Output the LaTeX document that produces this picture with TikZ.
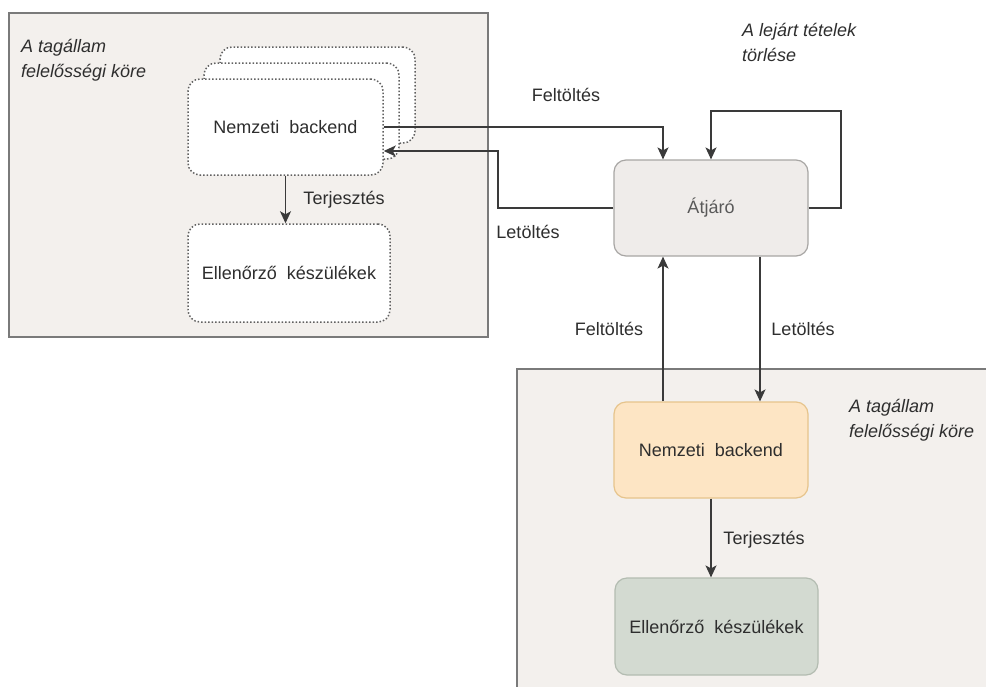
\documentclass[tikz,border=0pt]{standalone}
\usepackage{fontspec}
\setmainfont{Liberation Sans}
\usetikzlibrary{arrows.meta,calc}
\definecolor{panelfill}{HTML}{F3F0ED}
\definecolor{panelline}{HTML}{7A7A7A}
\definecolor{gwfill}{HTML}{EFECEA}
\definecolor{gwline}{HTML}{A8A6A4}
\definecolor{orfill}{HTML}{FDE5C4}
\definecolor{orline}{HTML}{E6C48C}
\definecolor{grfill}{HTML}{D3DAD1}
\definecolor{grline}{HTML}{B3BCB1}
\definecolor{txt}{HTML}{2E2E2E}
\definecolor{lnc}{HTML}{3A3A3A}
\begin{document}
\begin{tikzpicture}[x=1pt,y=-1pt,
  every node/.style={font=\fontsize{18}{25}\selectfont, text=txt},
  panel/.style={draw=panelline, fill=panelfill, line width=1.2pt},
  dotbox/.style={draw=black!62, fill=white, dotted, line width=1.5pt, rounded corners=12pt, minimum width=195pt, minimum height=96pt, inner sep=0pt},
  gwbox/.style={draw=gwline, fill=gwfill, line width=1.2pt, rounded corners=12pt, minimum width=194pt, minimum height=96pt, inner sep=0pt},
  orbox/.style={draw=orline, fill=orfill, line width=1.2pt, rounded corners=12pt, minimum width=194pt, minimum height=96pt, inner sep=0pt},
  grbox/.style={draw=grline, fill=grfill, line width=1.2pt, rounded corners=12pt, minimum width=203pt, minimum height=97pt, inner sep=0pt},
  conn/.style={draw=lnc, line width=1.3pt},
  arr/.style={conn, -{Stealth[length=12pt,width=11pt,inset=3pt]}},
  lbl/.style={inner sep=0pt},
  note/.style={inner sep=0pt, align=left, anchor=north west, font=\fontsize{18}{25}\selectfont\itshape}
]
\useasboundingbox (0,0) rectangle (986,686);
\clip (0,0) rectangle (986,686);
\fill[white] (0,0) rectangle (986,686);

% panels
\draw[panel] (9,13) rectangle (488,337);
\draw[panel] (517,369) rectangle (1000,700);

\node[note] (noteL) at (21,39) {A tagállam\\felelősségi köre};
\node[note] (noteB) at (849,399) {A tagállam\\felelősségi köre};
\node[note] (noteT) at (742,23) {A lejárt tételek\\törlése};

% stacked national backend
\node[dotbox] (nbL3) at (317.5,95) {};
\node[dotbox] (nbL2) at (301.5,111) {};
\node[dotbox] (nbL) at (285.5,127) {Nemzeti\ \ backend};
\node[dotbox, minimum width=202pt, minimum height=98pt] (ell1) at (289,273) {Ellenőrző\ \ készülékek};

% gateway
\node[gwbox, text=black!65] (gw) at (711,208) {Átjáró};

% bottom boxes
\node[orbox] (nbB) at (711,450) {Nemzeti\ \ backend};
\node[grbox] (ell2) at (716.5,626.5) {Ellenőrző\ \ készülékek};

% connectors
\draw[arr] (nbL.east) -| ($(gw.north)+(-48,0)$);
\coordinate (ltbend) at (498,208);
\draw[arr] (gw.west) -- (ltbend) |- ($(nbL.east)+(0,24)$);
\coordinate (loop) at (841,111);
\draw[arr] (gw.east) -| (loop) -| (gw.north);
\draw[arr] ($(nbB.north)+(-48,0)$) -- ($(gw.south)+(-48,0)$);
\draw[arr] ($(gw.south)+(49,0)$) -- ($(nbB.north)+(49,0)$);
\draw[arr] (nbL.south) -- (nbL.south |- ell1.north);
\draw[arr] (nbB.south) -- (nbB.south |- ell2.north);

% labels
\node[lbl] (lf1) at (566,95) {Feltöltés};
\node[lbl] (ll1) at (528,232) {Letöltés};
\node[lbl] (lf2) at (609,329) {Feltöltés};
\node[lbl] (ll2) at (803,329) {Letöltés};
\node[lbl] (lt1) at (344,200) {Terjesztés};
\node[lbl] (lt2) at (764,540) {Terjesztés};
\end{tikzpicture}
\end{document}
